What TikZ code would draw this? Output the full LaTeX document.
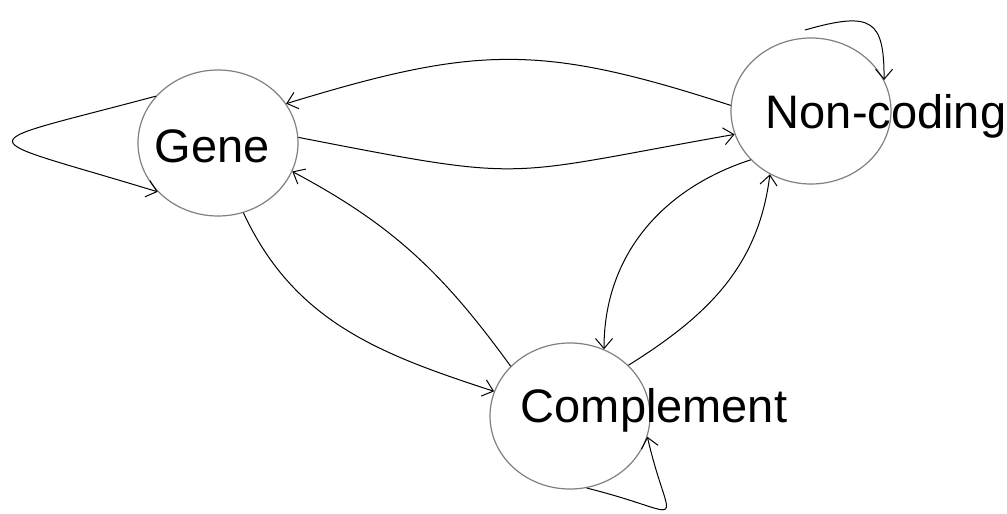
\documentclass[tikz,border=0pt]{standalone}
\usepackage{fontspec}
\setmainfont{Liberation Sans}
\usetikzlibrary{shapes.geometric,arrows.meta}
\begin{document}
\begin{tikzpicture}[x=1pt,y=-1pt]
\tikzset{etat/.style={draw=gray, ellipse, line width=1.2pt, minimum width=160pt, minimum height=146pt, inner sep=0pt},
etiq/.style={anchor=base, inner sep=0pt, font=\fontsize{47}{47}\selectfont},
fleche/.style={line width=1pt, -{Straight Barb[length=10pt,width=17pt]}}}
\useasboundingbox (0,0) rectangle (1007,514);
\node[etat] (G) at (218,143) {};
\node[etat] (N) at (811,111) {};
\node[etat] (C) at (570,416) {};
\node[etiq] (TG) at (212,162) {Gene};
\node[etiq] (TN) at (886,128) {Non-coding};
\node[etiq] (TC) at (654,422) {Complement};
\coordinate (Nboucle) at (805,30);
\draw[fleche] (N.176) .. controls +(-162:200) and +(-17:200) .. (G.30);
\draw[fleche] (G.4) .. controls +(11:240) and +(170:240) .. (N.197);
\draw[fleche] (G.143) .. controls +(-195:200) and +(-163:200) .. (G.219);
\draw[fleche] (G.-70) to[out=-65, in=162] (C.162);
\draw[fleche] (C.140) to[out=126, in=-28] (G.-21);
\draw[fleche] (N.219) to[out=198, in=90] (C.63);
\draw[fleche] (C.41) to[out=32, in=-97] (N.237);
\draw[fleche] (Nboucle) .. controls +(-16:70) and +(-90:60) .. (N.23);
\draw[fleche] (C.-77) .. controls +(14:110) and +(77:100) .. (C.-15);
\end{tikzpicture}
\end{document}
